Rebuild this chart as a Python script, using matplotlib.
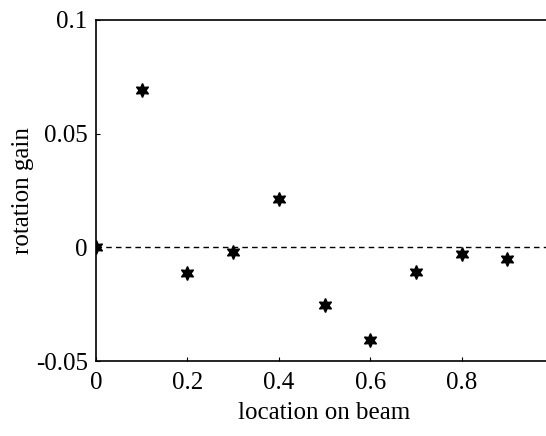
import matplotlib
matplotlib.use("Agg")
import matplotlib.pyplot as plt

x = [0.0, 0.1, 0.2, 0.3, 0.4, 0.5, 0.6, 0.7, 0.8, 0.9]
gain = [0.0, 0.069, -0.0114, -0.0022, 0.0214, -0.0253, -0.0406, -0.011, -0.003, -0.005]
xticks = [0, 0.2, 0.4, 0.6, 0.8]
xticklabels = ["0", "0.2", "0.4", "0.6", "0.8"]
yticks = [-0.05, 0, 0.05, 0.1]
yticklabels = ["-0.05", "0", "0.05", "0.1"]

plt.rcParams['font.family'] = ['Liberation Serif', 'DejaVu Serif']

fig = plt.figure(figsize=(5.46, 4.36), dpi=100)
W, H = 546, 436
left, right, top, bottom = 96, 553, 20, 361
ax = fig.add_axes([left / W, 1 - bottom / H, (right - left) / W, (bottom - top) / H])

ax.axhline(0, color='black', linestyle=(0, (4, 3)), linewidth=1.0)
ax.plot(x, gain, linestyle='none', marker=(6, 1, 0), markersize=10, color='black')

ax.set_xlim(0, 1)
ax.set_ylim(-0.05, 0.1)
ax.set_xticks(xticks)
ax.set_xticklabels(xticklabels)
ax.set_yticks(yticks)
ax.set_yticklabels(yticklabels)
ax.tick_params(direction='in', length=3, labelsize=18, pad=6)
ax.tick_params(axis='x', pad=8)
for s in ax.spines.values():
    s.set_linewidth(1.2)
ax.spines['right'].set_visible(False)

ax.set_xlabel("location on beam", fontsize=18, labelpad=6)
ax.set_ylabel("rotation gain", fontsize=18, labelpad=1)

fig.savefig("out.png", dpi=100)
